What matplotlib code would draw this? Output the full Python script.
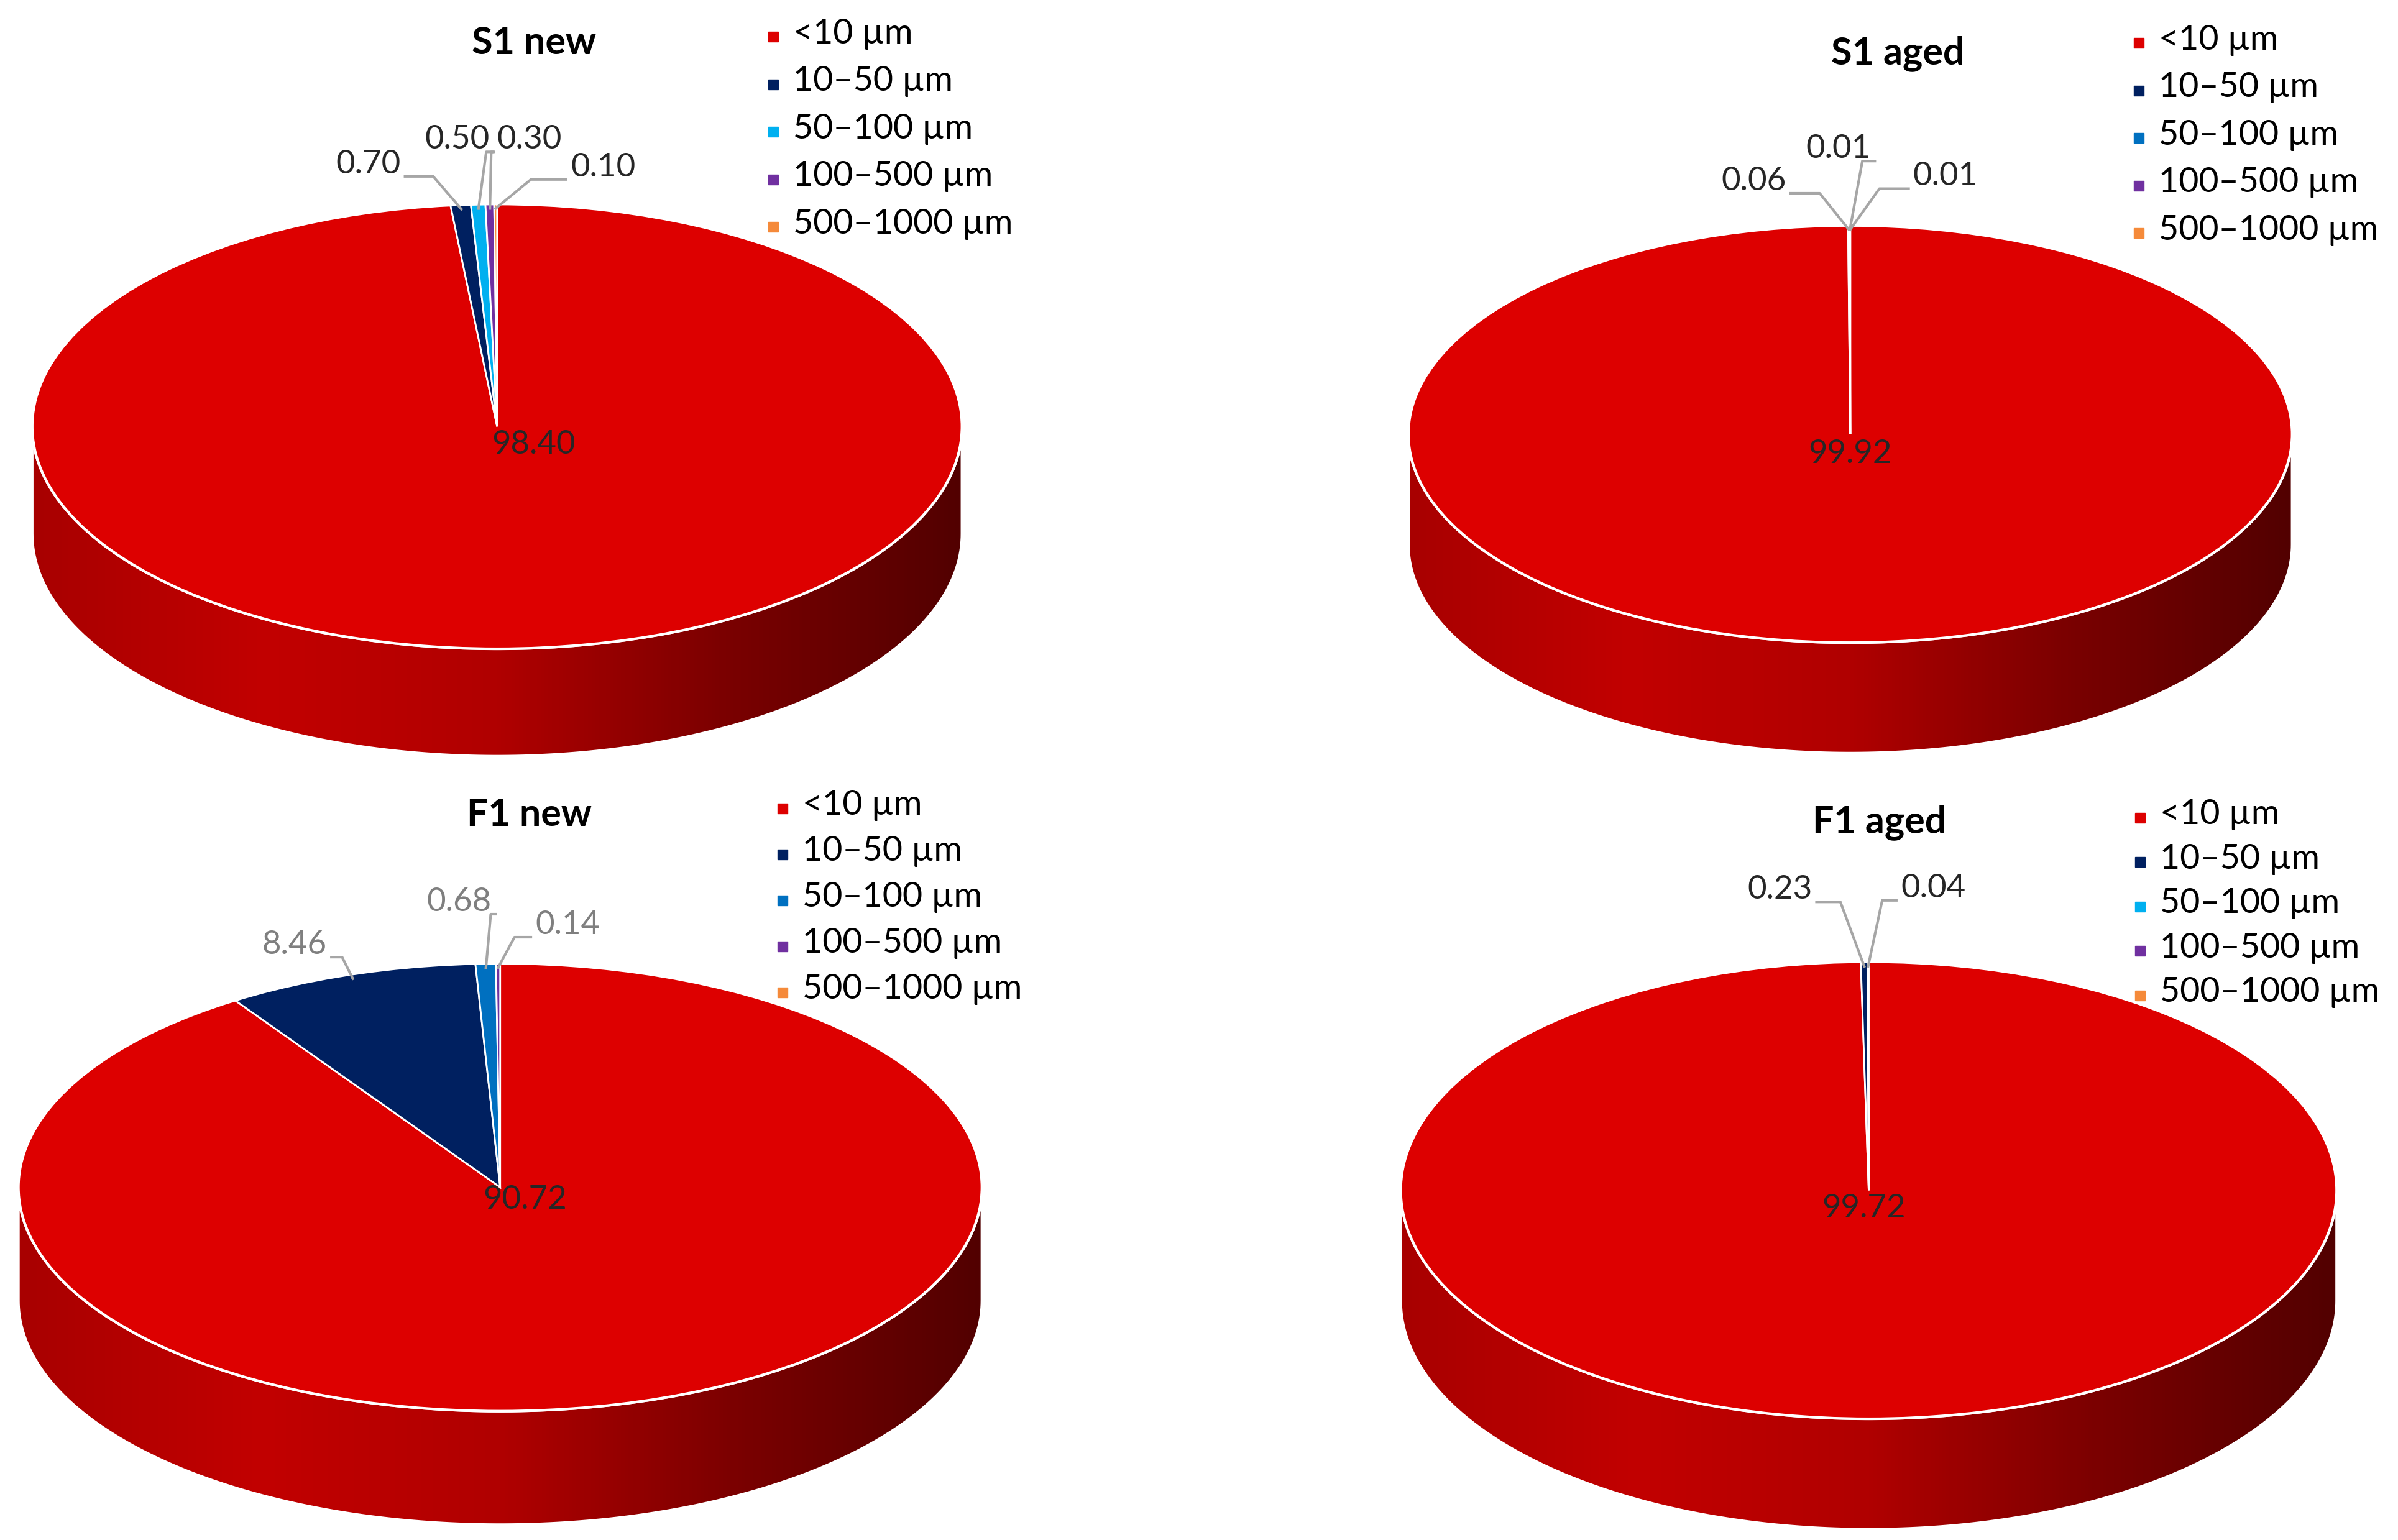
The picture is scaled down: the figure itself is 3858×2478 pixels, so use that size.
import matplotlib
matplotlib.use("Agg")
import matplotlib.pyplot as plt
import numpy as np
from matplotlib.patches import Wedge, Polygon, Ellipse
from matplotlib.transforms import Affine2D
from matplotlib.colors import LinearSegmentedColormap

categories = ["<10 µm", "10–50 µm", "50–100 µm", "100–500 µm", "500–1000 µm"]
titles = ["S1 new", "S1 aged", "F1 new", "F1 aged"]
s1_new = [98.40, 0.70, 0.50, 0.30, 0.10]
s1_aged = [99.92, 0.06, 0.01, 0.01, 0.00]
f1_new = [90.72, 8.46, 0.68, 0.14, 0.00]
f1_aged = [99.72, 0.23, 0.04, 0.00, 0.00]
series = [s1_new, s1_aged, f1_new, f1_aged]

pal_a = ["#DD0000", "#002060", "#00B0F0", "#7030A0", "#F58A3A"]
pal_b = ["#DD0000", "#002060", "#0070C0", "#7030A0", "#F58A3A"]
palettes = [pal_a, pal_b, pal_b, pal_a]

# layout (canvas units, 1563 x 1004)
geom = [
    dict(c=(324, 278), r=(303, 145), d=70, t=(348, 28), lg=(497, 22, 31), big=(348, 290),
         small=[(240, 107), (298, 91), (345, 91), (393, 109)], lc="#262626"),
    dict(c=(1206, 283), r=(288, 136), d=72, t=(1237, 35), lg=(1387, 26, 31), big=(1206, 296),
         small=[(1143, 118), (1198, 97), (1268, 115)], lc="#262626"),
    dict(c=(326, 774), r=(314, 146), d=74, t=(345, 531), lg=(503, 525, 30), big=(342, 782),
         small=[(192, 616), (299, 588), (370, 603)], lc="#7F7F7F"),
    dict(c=(1218, 776), r=(305, 149), d=72, t=(1225, 536), lg=(1388, 531, 29), big=(1215, 788),
         small=[(1160, 580), (1260, 579)], lc="#262626"),
]

FONT = ["Lato", "DejaVu Sans"]
fig = plt.figure(figsize=(38.58, 24.78), dpi=100)
ax = fig.add_axes([0, 0, 1, 1])
ax.set_xlim(0, 1563)
ax.set_ylim(1004, 0)
ax.axis("off")

cmap = LinearSegmentedColormap.from_list("side", ["#A80000", "#C20000", "#B00000", "#7A0000", "#520000"])

for vals, g, pal, title in zip(series, geom, palettes, titles):
    cx, cy = g["c"]; rx, ry = g["r"]; d = g["d"]
    # side
    th = np.linspace(np.pi, 2 * np.pi, 200)
    xs = cx + rx * np.cos(th); ys = cy - ry * np.sin(th)
    poly = np.vstack([np.c_[xs, ys], np.c_[xs[::-1], ys[::-1] + d]])
    side = Polygon(poly, closed=True, facecolor="none", edgecolor="white", lw=3, zorder=2)
    ax.add_patch(side)
    grad = np.linspace(0, 1, 256)[None, :]
    im = ax.imshow(grad, cmap=cmap, extent=(cx - rx, cx + rx, cy + ry + d, cy), aspect="auto", zorder=1)
    im.set_clip_path(side)
    # top
    tr = Affine2D().scale(rx, -ry).translate(cx, cy) + ax.transData
    total = sum(vals)
    cum = 0.0
    mids = []
    for v, col in zip(vals, pal):
        if v > 0:
            t2 = 90 - cum / total * 360
            t1 = 90 - (cum + v) / total * 360
            w = Wedge((0, 0), 1, t1, t2, facecolor=col, edgecolor="white", lw=2, transform=tr, zorder=3)
            ax.add_patch(w)
            mids.append(np.deg2rad((t1 + t2) / 2))
        cum += v
    ax.add_patch(Ellipse((0, 0), 2, 2, facecolor="none", edgecolor="white", lw=3, transform=tr, zorder=4))
    # labels
    ax.text(*g["big"], f"{vals[0]:.2f}", ha="center", va="center", fontsize=38, family=FONT, color="#262626", zorder=5)
    smalls = [v for v in vals[1:] if v > 0]
    for v, m, (lx, ly) in zip(smalls, mids[1:], g["small"]):
        px = cx + rx * np.cos(m) * 0.98; py = cy - ry * np.sin(m) * 0.98
        ax.text(lx, ly, f"{v:.2f}", ha="center", va="center", fontsize=38, family=FONT, color=g["lc"], zorder=5)
        ex = lx + (24 if lx < px else -24)
        ax.plot([ex, (ex + px) / 2, px], [ly + 8, ly + 8, py], color="#A6A6A6", lw=3, zorder=5)
    # title
    ax.text(*g["t"], title, ha="center", va="center", fontsize=44, fontweight="bold", family=FONT, color="black")
    lx, ly, dy = g["lg"]
    for i, (cat, col) in enumerate(zip(categories, pal)):
        ax.plot(lx + 7, ly + i * dy + 2, marker="s", ms=12, color=col, ls="none")
        ax.text(lx + 20, ly + i * dy, cat, ha="left", va="center", fontsize=40, family=FONT, color="black")

fig.savefig("out.png", dpi=100)
